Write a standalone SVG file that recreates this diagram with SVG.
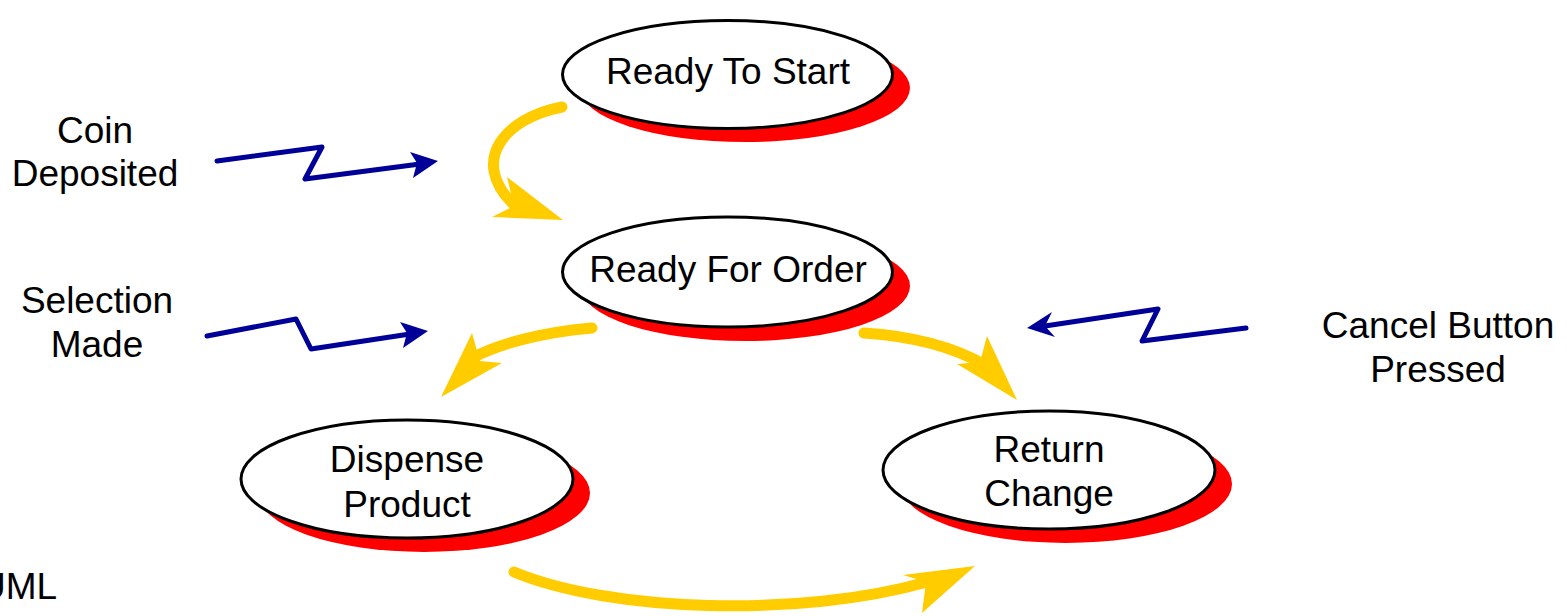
<svg xmlns="http://www.w3.org/2000/svg" width="1567" height="616" viewBox="0 0 1567 616">
<style>
text{font-family:"Liberation Sans",Arial,sans-serif;font-size:37px;fill:#000;text-anchor:middle}
.sh{fill:#ff0000}
.st{fill:#fff;stroke:#000;stroke-width:3}
.y{fill:none;stroke:#ffcc00;stroke-width:11;stroke-linecap:round}
.yh{fill:#ffcc00}
.b{fill:none;stroke:#000099;stroke-width:5;stroke-linejoin:round;stroke-linecap:round}
.bh{fill:#000099}
</style>
<rect width="1567" height="616" fill="#fff"/>
<g id="ready-to-start">
<ellipse class="sh" cx="745" cy="88" rx="165" ry="54"/>
<ellipse class="st" cx="727.5" cy="74.5" rx="165" ry="54"/>
<text x="728" y="84">Ready To Start</text>
</g>
<g id="ready-for-order">
<ellipse class="sh" cx="745" cy="286" rx="165" ry="55"/>
<ellipse class="st" cx="727.5" cy="272" rx="165" ry="55"/>
<text x="728" y="282">Ready For Order</text>
</g>
<g id="dispense-product">
<ellipse class="sh" cx="424" cy="493" rx="166" ry="59"/>
<ellipse class="st" cx="407" cy="479" rx="166" ry="59"/>
<text x="407" y="472">Dispense</text>
<text x="407" y="517">Product</text>
</g>
<g id="return-change">
<ellipse class="sh" cx="1066" cy="484" rx="166" ry="59"/>
<ellipse class="st" cx="1049" cy="470" rx="166" ry="59"/>
<text x="1049" y="462">Return</text>
<text x="1049" y="506">Change</text>
</g>
<g id="labels">
<text x="95" y="143">Coin</text>
<text x="95" y="186">Deposited</text>
<text x="97" y="313">Selection</text>
<text x="97" y="357">Made</text>
<text x="1438" y="338">Cancel Button</text>
<text x="1438" y="382">Pressed</text>
<text x="-21" y="599" style="text-anchor:start">UML</text>
</g>
<g id="connectors">
<path class="y" d="M562,107 C505,118 470,160 512,203"/>
<polygon class="yh" points="563,220 492,217 514,206 507,177"/>
<path class="y" d="M592,328 C545,332 500,343 472,358"/>
<polygon class="yh" points="441,397 472,333 480,361 502,363"/>
<path class="y" d="M864,333 C910,336 950,345 985,365"/>
<polygon class="yh" points="1017,400 957,364 980,362 987,336"/>
<path class="y" d="M514,572 C610,612 800,618 927,582"/>
<polygon class="yh" points="975,566 903,575 926,582 922,613"/>
<polyline class="b" points="217,161 322,147 305,179 420,164"/>
<polygon class="bh" points="438,161 410,152 417,163 413,178"/>
<polyline class="b" points="207,336 296,319 311,349 410,334"/>
<polygon class="bh" points="428,331 400,322 407,333 403,348"/>
<polyline class="b" points="1246,328 1142,341 1158,309 1045,326"/>
<polygon class="bh" points="1027,328 1052,312 1045,326 1055,337"/>
</g>
</svg>
